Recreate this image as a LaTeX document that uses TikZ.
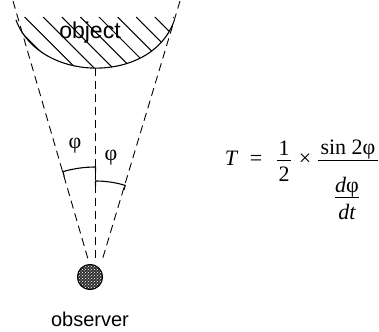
\documentclass[tikz,border=0pt]{standalone}
\usepackage{fontspec}
\setmainfont{Liberation Serif}
\newfontfamily\lsans{Liberation Sans}
\usetikzlibrary{patterns}
\tikzset{
  sight/.style={dash pattern=on 8pt off 5pt, line width=0.9pt},
  anglearc/.style={line width=1.1pt},
  hatch/.style={line width=1pt},
  lbl/.style={font=\lsans\fontsize{20}{20}\selectfont, inner sep=0pt},
  fml/.style={font=\fontsize{22}{22}\selectfont, inner sep=0pt, anchor=base},
  fbar/.style={line width=1pt}
}
\begin{document}
\begin{tikzpicture}[x=1pt,y=-1pt]
\useasboundingbox (0,0) rectangle (379,331);
% key points
\coordinate (apex) at (95.5,284);
\coordinate (Ltop) at (13,1);
\coordinate (Rtop) at (180,1);
\coordinate (Lend) at (88,259);
\coordinate (Rend) at (102.5,259);
\coordinate (Mtop) at (95.5,68);
\coordinate (Mend) at (95.5,259);
\coordinate (arcL) at (16,20);
\coordinate (arcR) at (174,21);
% object
\begin{scope}
  \clip (arcL) .. controls (40,84) and (152,84) .. (arcR) -- (174,17) -- (16,17) -- cycle;
  \foreach \k in {0,...,11} {
    \draw[hatch] (6+18.6*\k,17) -- ++(70,70);
  }
\end{scope}
\draw[line width=1.1pt] (arcL) .. controls (40,84) and (152,84) .. (arcR);
\node[lbl, font=\lsans\fontsize{23}{23}\selectfont] (obj) at (90,33) {object};
% sight lines
\draw[sight] (Ltop) -- (Lend);
\draw[sight] (Rtop) -- (Rend);
\draw[sight] (Mtop) -- (Mend);
% angle arcs
\draw[anglearc] ([shift={(-106.2:112)}]apex) -- ([shift={(-106.2:117)}]apex)
  arc[start angle=-106.2, end angle=-90, radius=117] -- ([shift={(-90:112)}]apex);
\draw[anglearc] ([shift={(-90:98)}]apex) -- ([shift={(-90:103)}]apex)
  arc[start angle=-90, end angle=-73.2, radius=103] -- ([shift={(-73.2:98)}]apex);
\node[font=\fontsize{22}{22}\selectfont, inner sep=0pt] (phiL) at (75,146) {φ};
\node[font=\fontsize{22}{22}\selectfont, inner sep=0pt] (phiR) at (111,158) {φ};
% observer
\fill[black!80] (90,277) circle[radius=13];
\fill[pattern=crosshatch dots, pattern color=white] (90,277) circle[radius=12];
\draw[line width=0.8pt] (90,277) circle[radius=12.6];
\node[lbl] (obs) at (90,319.5) {observer};
% formula
\node[fml] (T) at (231,165) {\itshape T};
\node[fml] (eq) at (256,165) {=};
\node[fml] (one) at (284,155) {1};
\coordinate (b1a) at (277,160);
\coordinate (b1b) at (291,160);
\draw[fbar] (b1a) -- (b1b);
\node[fml] (two) at (284,181) {2};
\node[fml] (times) at (305,165) {×};
\node[fml] (num) at (348,154) {sin 2φ};
\coordinate (b2a) at (318,160);
\coordinate (b2b) at (378,160);
\draw[fbar] (b2a) -- (b2b);
\node[fml] (dphi) at (347,192) {\itshape d\upshape φ};
\coordinate (b3a) at (335,197);
\coordinate (b3b) at (359,197);
\draw[fbar] (b3a) -- (b3b);
\node[fml] (dt) at (347,219) {\itshape dt};
\end{tikzpicture}
\end{document}
